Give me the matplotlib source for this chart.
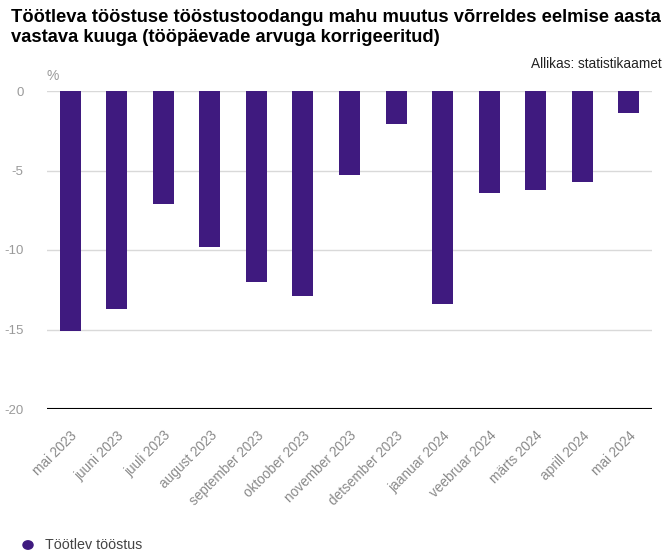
import matplotlib
matplotlib.use("Agg")
import matplotlib.pyplot as plt
import numpy as np

plt.rcParams["font.family"] = ["Liberation Sans", "DejaVu Sans"]

TITLE = "Töötleva tööstuse tööstustoodangu mahu muutus võrreldes eelmise aasta\nvastava kuuga (tööpäevade arvuga korrigeeritud)"
SOURCE = "Allikas: statistikaamet"
SERIES_NAME = "Töötlev tööstus"
BAR_COLOR = "#3f1a7f"

months = ["mai 2023", "juuni 2023", "juuli 2023", "august 2023", "september 2023",
          "oktoober 2023", "november 2023", "detsember 2023", "jaanuar 2024",
          "veebruar 2024", "märts 2024", "aprill 2024", "mai 2024"]
values = [-15.1, -13.7, -7.1, -9.8, -12.0, -12.9, -5.3, -2.1, -13.4, -6.4, -6.2, -5.7, -1.4]
yticks = [0, -5, -10, -15, -20]

fig = plt.figure(figsize=(6.72, 5.6), dpi=100)
ax = fig.add_axes([47 / 672, 1 - 409 / 560, 605 / 672, 318 / 560])

x = np.arange(len(months))
ax.bar(x, values, width=0.45, color=BAR_COLOR, zorder=3)

ax.set_xlim(-0.5, len(months) - 0.5)
ax.set_ylim(-20, 0)
ax.set_yticks(yticks)
ax.set_yticklabels([str(v) for v in yticks])
ax.grid(axis="y", color="#d9d9d9", linewidth=1, zorder=0)
ax.axhline(-20, color="black", linewidth=1.5, zorder=4)
for s in ax.spines.values():
    s.set_visible(False)
ax.tick_params(axis="y", length=0, pad=17, labelsize=9.5, labelcolor="#9a9a9a")
ax.tick_params(axis="x", length=0, pad=14, labelsize=9.8, labelcolor="#8a8a8a")
ax.set_xticks(x)
ax.set_xticklabels(months, rotation=45, ha="right", rotation_mode="anchor")

fig.text(11 / 672, 1 - 9 / 560, TITLE, fontsize=13.2, fontweight="bold",
         va="top", ha="left", linespacing=1.22)
fig.text(662 / 672, 1 - 68 / 560, SOURCE, fontsize=9.8, ha="right", va="baseline", color="#222222")
fig.text(46 / 672, 1 - 80 / 560, "%", fontsize=10, ha="left", va="baseline", color="#9a9a9a")

fig.patches.append(matplotlib.patches.Circle((28 / 672, 1 - 545 / 560), 0.0075,
                                             transform=fig.transFigure, color=BAR_COLOR,
                                             figure=fig))
fig.text(45 / 672, 1 - 545 / 560, SERIES_NAME, fontsize=10.3, ha="left", va="center", color="#444444")

fig.savefig("out.png", dpi=100)
